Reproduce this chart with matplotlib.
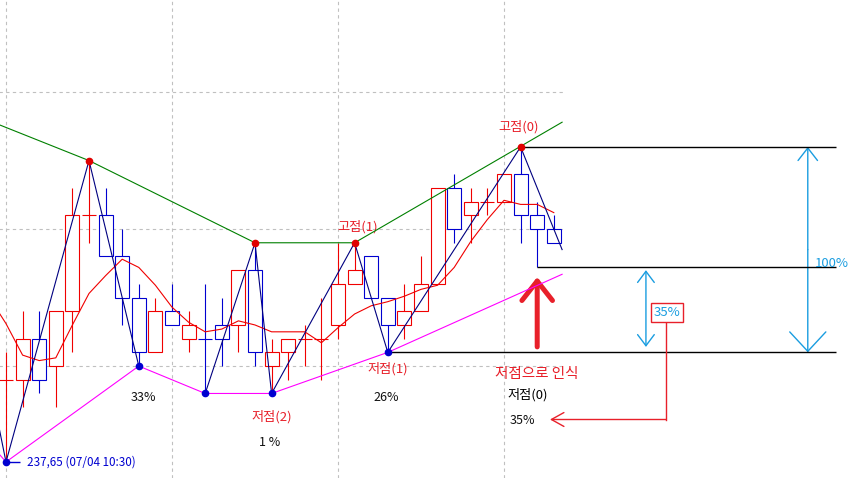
import numpy as np
import matplotlib.pyplot as plt
from matplotlib.patches import Rectangle

plt.rcParams['font.family'] = ['Noto Sans CJK KR', 'DejaVu Sans']

# 30-minute bars (07/04), price
opens  = [238.25, 238.25, 238.55, 238.35, 238.75, 239.45, 239.45, 239.15, 238.85, 238.45,
          238.75, 238.55, 238.55, 238.65, 238.65, 239.05, 238.35, 238.45, 238.55, 238.55,
          238.65, 238.95, 239.15, 238.85, 238.65, 238.75, 238.95, 239.65, 239.45, 239.55,
          239.55, 239.75, 239.45, 239.35]
highs  = [238.45, 238.75, 238.75, 238.75, 239.65, 239.85, 239.65, 239.35, 238.95, 238.85,
          238.95, 238.75, 238.95, 238.85, 239.05, 239.25, 238.55, 238.55, 238.65, 238.85,
          239.25, 239.25, 239.15, 238.85, 238.95, 239.15, 239.65, 239.75, 239.65, 239.65,
          239.75, 239.95, 239.55, 239.45]
lows   = [237.65, 238.05, 238.15, 238.05, 238.45, 239.25, 239.15, 238.65, 238.35, 238.45,
          238.65, 238.45, 238.15, 238.35, 238.45, 238.35, 238.15, 238.25, 238.35, 238.25,
          238.55, 238.95, 238.85, 238.45, 238.55, 238.75, 238.95, 239.25, 239.25, 239.45,
          239.55, 239.25, 239.07, 239.25]
closes = [238.25, 238.55, 238.25, 238.75, 239.45, 239.45, 239.15, 238.85, 238.45, 238.75,
          238.65, 238.65, 238.55, 238.55, 239.05, 238.45, 238.45, 238.55, 238.55, 238.55,
          238.95, 239.05, 238.85, 238.65, 238.75, 238.95, 239.65, 239.35, 239.55, 239.55,
          239.75, 239.45, 239.35, 239.25]

# moving average, starts one bar before the screen
ma_x = np.arange(-1, 34)
ma = [238.85, 238.66, 238.43, 238.39, 238.41, 238.65, 238.88, 239.01, 239.13, 239.07,
      238.94, 238.78, 238.67, 238.60, 238.62, 238.68, 238.65, 238.60, 238.60, 238.60,
      238.52, 238.63, 238.73, 238.79, 238.82, 238.86, 238.91, 238.94, 239.07, 239.26,
      239.42, 239.56, 239.53, 239.53, 239.47]

# zigzag (gap between 8 and 12)
zz_x = [-1, 0, 5, 8, np.nan, 12, 15, 16, 21, 23, 31, 33.5]
zz_y = [238.25, 237.65, 239.85, 238.35, np.nan, 238.15, 239.25, 238.15, 239.25, 238.45, 239.95, 239.20]

# trend lines through pivots
sup_x = [-1, 0, 8, 12, 16, 23, 33.5]
sup_y = [237.79, 237.65, 238.35, 238.15, 238.15, 238.45, 239.02]
res_x = [-1, 5, 15, 21, 33.5]
res_y = [240.14, 239.85, 239.25, 239.25, 240.13]

peak_idx = [5, 15, 21, 31]
low_idx = [0, 8, 12, 16, 23]

RED = '#f00000'
BLUE = '#0000d0'
NAVY = '#000080'
CYAN = '#1a9de0'
LRED = '#e8202a'

fig = plt.figure(figsize=(8.66, 4.78), dpi=100)
ax = fig.add_axes([0, 0, 1, 1])
ax.set_xlim(-0.3614, 51.807)
ax.set_ylim(237.533, 241.022)
ax.axis('off')

# grid only over the price area
ax.vlines([0, 10, 20, 30], 237.533, 241.022, colors='#c0c0c0', linestyles=(0, (3, 3)), lw=0.8, zorder=0)
ax.hlines([238.35, 239.35, 240.35], -0.4, 33.6, colors='#c0c0c0', linestyles=(0, (3, 3)), lw=0.8, zorder=0)

# candles
for i in range(len(opens)):
    o, h, l, c = opens[i], highs[i], lows[i], closes[i]
    prev = closes[i - 1] if i > 0 else c
    col = RED if (c > o or (c == o and c >= prev)) else BLUE
    ax.vlines(i, l, h, color=col, lw=0.8, zorder=2)
    if c == o:
        ax.hlines(c, i - 0.42, i + 0.42, color=col, lw=0.8, zorder=3)
    else:
        ax.add_patch(Rectangle((i - 0.42, min(o, c)), 0.84, abs(c - o),
                               facecolor='white', edgecolor=col, lw=0.8, zorder=3))

ax.plot(ma_x, ma, color=RED, lw=0.8, zorder=4)
ax.plot(res_x, res_y, color='#008000', lw=0.8, zorder=4)
ax.plot(sup_x, sup_y, color='#ff00ff', lw=0.8, zorder=4)
ax.plot(zz_x, zz_y, color=NAVY, lw=0.8, zorder=5)

ax.plot(peak_idx, [highs[i] for i in peak_idx], 'o', color='#e00000', ms=4.5, zorder=6)
ax.plot(low_idx, [lows[i] for i in low_idx], 'o', color=BLUE, ms=4.5, zorder=6)

# measuring the last swing
top = highs[31]
mid = lows[32]
bot = lows[23]
ax.hlines(top, 31, 50, color='black', lw=1, zorder=4)
ax.hlines(mid, 32, 50, color='black', lw=1, zorder=4)
ax.hlines(bot, 23, 50, color='black', lw=1, zorder=4)

ax.annotate('', xy=(48.3, top), xytext=(48.3, (top + bot) / 2),
            arrowprops=dict(arrowstyle='->,head_length=0.9,head_width=0.7', color=CYAN, lw=1,
                            shrinkA=0, shrinkB=0))
ax.annotate('', xy=(48.3, bot), xytext=(48.3, (top + bot) / 2),
            arrowprops=dict(arrowstyle='->,head_length=1.4,head_width=1.3', color=CYAN, lw=1,
                            shrinkA=0, shrinkB=0))
ax.annotate('', xy=(38.55, mid - 0.02), xytext=(38.55, bot + 0.04),
            arrowprops=dict(arrowstyle='<->,head_length=0.8,head_width=0.6', color=CYAN, lw=1,
                            shrinkA=0, shrinkB=0))
ax.text(48.7, 239.10, '100%', color=CYAN, fontsize=9.5, ha='left', va='center', zorder=7)
ax.text(39.8, 238.74, '35%', color=CYAN, fontsize=9.5, ha='center', va='center', zorder=7,
        bbox=dict(boxstyle='square,pad=0.2', fc='white', ec=LRED, lw=1))

# red pointer from the box to the text
ax.plot([39.76, 39.76], [238.67, 237.96], color=LRED, lw=1, zorder=6)
ax.annotate('', xy=(32.77, 237.96), xytext=(39.76, 237.96),
            arrowprops=dict(arrowstyle='->,head_length=0.9,head_width=0.5', color=LRED, lw=1,
                            shrinkA=0, shrinkB=0))

# thick arrow under the last low
ax.annotate('', xy=(32, 239.0), xytext=(32, 238.49),
            arrowprops=dict(arrowstyle='->,head_length=1.4,head_width=1.1', color=LRED, lw=3.6,
                            shrinkA=0, shrinkB=0))

# labels
ax.text(30.9, 240.10, '고점(0)', color=LRED, fontsize=9.5, ha='center', va='center')
ax.text(21.2, 239.37, '고점(1)', color=LRED, fontsize=9.5, ha='center', va='center')
ax.text(23.0, 238.33, '저점(1)', color=LRED, fontsize=9.5, ha='center', va='center')
ax.text(16.0, 237.98, '저점(2)', color=LRED, fontsize=9.5, ha='center', va='center')
ax.text(32.0, 238.29, '저점으로 인식', color=LRED, fontsize=10.5, ha='center', va='center')
ax.text(31.4, 238.14, '저점(0)', color='black', fontsize=9.5, ha='center', va='center')
ax.text(8.3, 238.12, '33%', color='#101010', fontsize=9, ha='center', va='center')
ax.text(15.9, 237.79, '1 %', color='#101010', fontsize=9, ha='center', va='center')
ax.text(22.9, 238.12, '26%', color='#101010', fontsize=9, ha='center', va='center')
ax.text(31.1, 237.95, '35%', color='#101010', fontsize=9, ha='center', va='center')

ax.hlines(lows[0], 0, 0.85, color=BLUE, lw=1, zorder=6)
ax.text(1.27, lows[0], '237,65 (07/04 10:30)', color=BLUE, fontsize=8.4, ha='left', va='center')

fig.savefig('out.png', dpi=100)
